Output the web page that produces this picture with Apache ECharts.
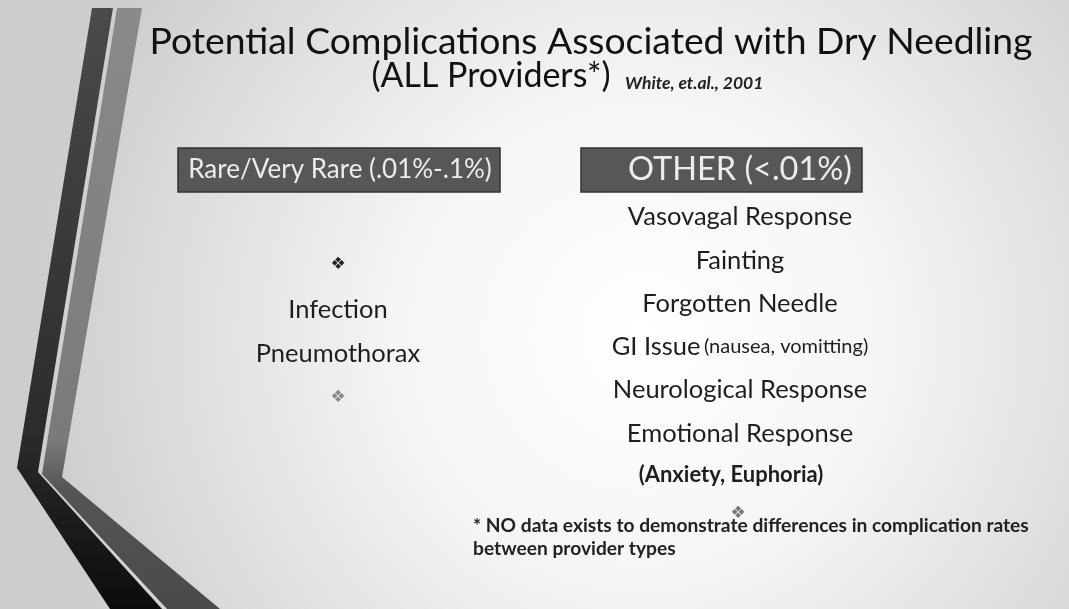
<!DOCTYPE html>
<html>
<head>
<meta charset="utf-8">
<script src="https://cdn.jsdelivr.net/npm/echarts@6/dist/echarts.min.js"></script>
<style>
  html, body { margin: 0; padding: 0; background: #fff; }
  #main { width: 1069px; height: 609px; }
</style>
</head>
<body>
<div id="main"></div>
<script>
// slide texts
var titleLines = ['Potential Complications Associated with Dry Needling', '(ALL Providers*)'];
var citation = 'White, et.al., 2001';
var rareHeader = 'Rare/Very Rare (.01%-.1%)';
var rareItems = ['Infection', 'Pneumothorax'];
var otherHeader = 'OTHER (<.01%)';
var otherItems = ['Vasovagal Response', 'Fainting', 'Forgotten Needle', 'GI Issue', 'Neurological Response', 'Emotional Response'];
var otherNotes = ['', '', '', '(nausea, vomitting)', '', ''];
var emotionNote = '(Anxiety, Euphoria)';
var footnote = ['* NO data exists to demonstrate differences in complication rates', 'between provider types'];
var bullet = '\u2756';

var bodyFont = 'Lato';
var ink = '#1e1e1e';

var chart = echarts.init(document.getElementById('main'));
var g = [];

// background
g.push({
  type: 'rect', shape: {x: 0, y: 0, width: 1069, height: 609}, z: 0,
  style: {
    fill: {
      type: 'radial', x: 0.6, y: 0.55, r: 1.0,
      colorStops: [
        {offset: 0, color: '#ffffff'},
        {offset: 0.4, color: '#f5f5f5'},
        {offset: 0.75, color: '#dedede'},
        {offset: 1, color: '#cdcdcd'}
      ]
    }
  }
});

// left stripes
g.push({
  type: 'polygon', z: 1,
  shape: {points: [[92, 8], [113, 8], [38, 472], [162, 609], [110, 609], [17, 468]]},
  style: {fill: {type: 'linear', x: 0, y: 0, x2: 0, y2: 1, colorStops: [
    {offset: 0, color: '#4a4a4a'}, {offset: 0.7, color: '#2c2c2c'}, {offset: 1, color: '#0c0c0c'}]}}
});
g.push({
  type: 'polygon', z: 1,
  shape: {points: [[117, 8], [142, 8], [62, 477], [220, 609], [167, 609], [42, 474]]},
  style: {fill: {type: 'linear', x: 0, y: 0, x2: 0, y2: 1, colorStops: [
    {offset: 0, color: '#8a8a8a'}, {offset: 0.72, color: '#7a7a7a'}, {offset: 0.8, color: '#555555'}, {offset: 1, color: '#4a4a4a'}]}}
});

// title
g.push({type: 'text', x: 591, y: 42, z: 5, style: {
  text: titleLines[0], font: '37.3px Lato', fill: '#111', align: 'center', verticalAlign: 'middle'}});
g.push({type: 'text', x: 491, y: 76, z: 5, style: {
  text: titleLines[1], font: '34px Lato', fill: '#111', align: 'center', verticalAlign: 'middle'}});
g.push({type: 'text', x: 625, y: 83, z: 5, style: {
  text: citation, font: 'italic bold 17.5px Lato', fill: '#222', align: 'left', verticalAlign: 'middle'}});

// header boxes
function header(x, w, label, size, cx) {
  g.push({type: 'rect', z: 3, shape: {x: x, y: 148, width: w, height: 44},
    style: {fill: '#575757', stroke: '#333', lineWidth: 1.5}});
  g.push({type: 'text', z: 5, x: cx, y: 170, style: {
    text: label, font: size + 'px ' + bodyFont, fill: '#ececec', align: 'center', verticalAlign: 'middle'}});
}
header(178, 322, rareHeader, 26, 340);
header(581, 281, otherHeader, 32.5, 740);

function bulletMark(x, y, color) {
  g.push({type: 'text', z: 5, x: x, y: y, style: {
    text: bullet, font: '17px "DejaVu Sans"', fill: color, align: 'center', verticalAlign: 'middle'}});
}

// left column
bulletMark(338, 265, '#222');
rareItems.forEach(function (t, i) {
  g.push({type: 'text', z: 5, x: 338, y: 310 + i * 44, style: {
    text: t, font: '25.5px ' + bodyFont, fill: ink, align: 'center', verticalAlign: 'middle'}});
});
bulletMark(338, 398, '#888');

// right column
otherItems.forEach(function (t, i) {
  var txt = otherNotes[i] ? '{a|' + t + '} {b|' + otherNotes[i] + '}' : '{a|' + t + '}';
  g.push({type: 'text', z: 5, x: 740, y: 217 + i * 43.3, style: {
    text: txt, align: 'center', verticalAlign: 'middle', fill: ink,
    rich: {
      a: {font: '25.5px ' + bodyFont, fill: ink},
      b: {font: '20px ' + bodyFont, fill: ink}
    }}});
});
g.push({type: 'text', z: 5, x: 731, y: 475, style: {
  text: emotionNote, font: 'bold 22px ' + bodyFont, fill: ink, align: 'center', verticalAlign: 'middle'}});
bulletMark(738, 514, '#777');

// footnote
footnote.forEach(function (t, i) {
  g.push({type: 'text', z: 5, x: 473, y: 526 + i * 23, style: {
    text: t, font: 'bold 19.2px ' + bodyFont, fill: '#222', align: 'left', verticalAlign: 'middle'}});
});

chart.setOption({
  animation: false,
  graphic: {elements: g}
});
</script>
</body>
</html>
